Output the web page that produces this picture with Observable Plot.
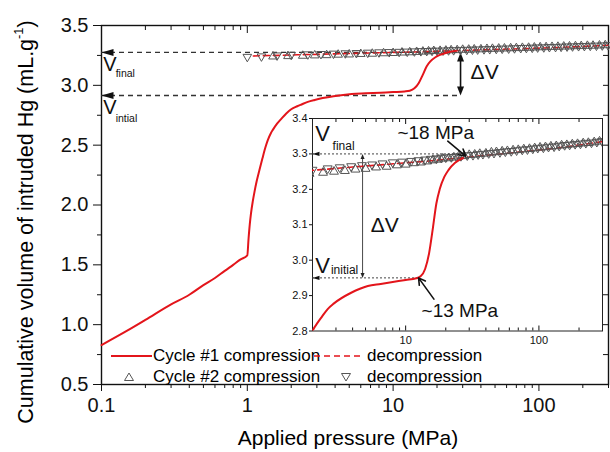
<!DOCTYPE html>
<html><head><meta charset="utf-8">
<script src="https://cdn.jsdelivr.net/npm/d3@7"></script>
<script src="https://cdn.jsdelivr.net/npm/@observablehq/plot@0.6"></script>
<style>
body{margin:0;background:#fff;font-family:"Liberation Sans",Arial,sans-serif;}
#wrap{position:relative;width:610px;height:452px;overflow:hidden;background:#fff;}
.abs{position:absolute;white-space:nowrap;color:#000;}
</style></head><body><div id="wrap"></div>
<script>
// ---- Cycle #1 compression (solid red) ----
const c1Pressure = [0.1, 0.15, 0.2, 0.3, 0.4, 0.5, 0.6, 0.7, 0.8, 0.9, 1.0, 1.02, 1.04, 1.06, 1.09, 1.12, 1.16, 1.21, 1.27, 1.33, 1.38, 1.45, 1.5, 1.6, 1.71, 1.85, 2.0, 2.2, 2.35, 2.6, 2.9, 3.9, 5.2, 6.5, 8.2, 10, 12, 13, 14, 15, 16, 17, 18, 19.5, 21, 23.5, 27];
const c1Volume   = [0.83, 0.95, 1.04, 1.17, 1.25, 1.33, 1.39, 1.45, 1.50, 1.545, 1.58, 1.72, 1.84, 1.93, 2.03, 2.11, 2.20, 2.29, 2.39, 2.48, 2.54, 2.60, 2.63, 2.68, 2.72, 2.765, 2.80, 2.825, 2.84, 2.862, 2.878, 2.908, 2.927, 2.933, 2.939, 2.944, 2.949, 2.955, 2.975, 3.02, 3.09, 3.16, 3.20, 3.235, 3.255, 3.275, 3.288];
// ---- Cycle #1 decompression (dashed red) ----
const d1Pressure = [1.1, 1.3, 1.7, 2.2, 3, 4, 5.5, 7.5, 10, 14, 20, 28, 40, 55, 75, 100, 140, 200, 300];
const d1Volume   = [3.245, 3.248, 3.251, 3.255, 3.259, 3.263, 3.267, 3.271, 3.275, 3.279, 3.285, 3.29, 3.296, 3.301, 3.306, 3.311, 3.317, 3.325, 3.335];
// ---- Cycle #2 compression (up triangles) ----
const c2Pressure = [1.5, 1.9, 2.4, 2.9, 3.5, 4.2, 5.0, 6.0, 7.2, 8.6, 10, 11.5, 13, 14.5, 16, 17.5, 19, 21, 23, 25, 27.5, 30, 33, 36, 40, 44, 48, 53, 58, 64, 70, 77, 85, 93, 102, 112, 123, 135, 148, 162, 178, 195, 215, 235, 260, 285];
const c2Volume   = [3.241, 3.244, 3.247, 3.250, 3.252, 3.256, 3.258, 3.262, 3.264, 3.268, 3.270, 3.274, 3.276, 3.279, 3.282, 3.284, 3.287, 3.288, 3.290, 3.293, 3.294, 3.297, 3.298, 3.300, 3.301, 3.304, 3.305, 3.307, 3.308, 3.310, 3.311, 3.313, 3.314, 3.316, 3.318, 3.319, 3.321, 3.322, 3.324, 3.325, 3.327, 3.328, 3.330, 3.331, 3.333, 3.335];
// ---- Cycle #2 decompression (down triangles) ----
const d2Pressure = [1.0, 1.25, 1.6, 2.0, 2.6, 3.2, 3.9, 4.7, 5.6, 6.7, 8, 9.4, 11, 12.5, 14, 15.5, 17, 18.5, 20, 22, 24, 26, 29, 32, 35, 38, 42, 46, 51, 56, 62, 68, 75, 82, 90, 98, 108, 118, 130, 142, 156, 170, 187, 205, 225, 248, 272, 298];
const d2Volume   = [3.238, 3.242, 3.250, 3.255, 3.259, 3.262, 3.265, 3.268, 3.270, 3.273, 3.276, 3.278, 3.280, 3.282, 3.284, 3.286, 3.287, 3.289, 3.290, 3.291, 3.293, 3.294, 3.296, 3.297, 3.299, 3.300, 3.302, 3.303, 3.305, 3.307, 3.308, 3.310, 3.312, 3.313, 3.315, 3.317, 3.318, 3.320, 3.321, 3.323, 3.325, 3.326, 3.328, 3.329, 3.331, 3.332, 3.334, 3.336];

// ---- axis ticks ----
const xMajorTicks = [0.1, 1, 10, 100];
const xMinorTicks = [0.2,0.3,0.4,0.5,0.6,0.7,0.8,0.9,2,3,4,5,6,7,8,9,20,30,40,50,60,70,80,90,200,300];
const yMajorTicks = [0.5, 1.0, 1.5, 2.0, 2.5, 3.0, 3.5];
const yMinorTicks = [0.75, 1.25, 1.75, 2.25, 2.75, 3.25];
const insetYTicks = [2.8, 2.9, 3.0, 3.1, 3.2, 3.3, 3.4];
const insetXMajor = [10, 100];
const insetXMinor = [2,3,4,5,6,7,8,9,20,30,40,50,60,70,80,90,200,300];

// ---- annotation values ----
const mainVFinal = 3.275, mainVInitial = 2.915, mainDeltaP = 29;
const insetVFinal = 3.30, insetVInitial = 2.95, insetDeltaP = 4.75;

const RED = "#e3151b";
const GREY = "#555";
const FONT = '"Liberation Sans", Arial, sans-serif';

const c1 = c1Pressure.map((p, i) => ({p, v: c1Volume[i]}));
const d1 = d1Pressure.map((p, i) => ({p, v: d1Volume[i]}));
const c2 = c2Pressure.map((p, i) => ({p, v: c2Volume[i]}));
const d2 = d2Pressure.map((p, i) => ({p, v: d2Volume[i]}));

const S3 = Math.sqrt(3);
const downTri = {draw(ctx, size) { const y = -Math.sqrt(size / (S3 * 3)); ctx.moveTo(0, -y * 2); ctx.lineTo(-S3 * y, y); ctx.lineTo(S3 * y, y); ctx.closePath(); }};
const headLeft = (L, w) => ({draw(ctx) { ctx.moveTo(0, 0); ctx.lineTo(L, -w); ctx.lineTo(L, w); ctx.closePath(); }});
const headUp = (L, w) => ({draw(ctx) { ctx.moveTo(0, 0); ctx.lineTo(-w, L); ctx.lineTo(w, L); ctx.closePath(); }});
const headDown = (L, w) => ({draw(ctx) { ctx.moveTo(0, 0); ctx.lineTo(-w, -L); ctx.lineTo(w, -L); ctx.closePath(); }});
const blank = () => "";

const main = Plot.plot({
  width: 610, height: 452,
  marginLeft: 101, marginRight: 2, marginTop: 25, marginBottom: 68,
  style: {fontFamily: FONT, background: "white", color: "#111", overflow: "visible"},
  x: {type: "log", domain: [0.1, 300]},
  y: {domain: [0.5, 3.5]},
  marks: [
    Plot.axisX(xMajorTicks, {anchor: "bottom", tickSize: 7, tickPadding: 6, fontSize: 20, tickFormat: d => String(d), label: null}),
    Plot.axisX(xMinorTicks, {anchor: "bottom", tickSize: 4, tickFormat: blank, label: null}),
    Plot.axisX(xMajorTicks, {anchor: "top", tickSize: -7, tickFormat: blank, label: null}),
    Plot.axisX(xMinorTicks, {anchor: "top", tickSize: -4, tickFormat: blank, label: null}),
    Plot.axisY(yMajorTicks, {anchor: "left", tickSize: 8, tickPadding: 5, fontSize: 20, tickFormat: d3.format(".1f"), label: null}),
    Plot.axisY(yMinorTicks, {anchor: "left", tickSize: 4, tickFormat: blank, label: null}),
    Plot.axisY(yMajorTicks.concat(yMinorTicks), {anchor: "right", tickSize: -6, tickFormat: blank, label: null}),
    Plot.frame({stroke: "#111", strokeWidth: 1.4}),
    // V lines
    Plot.ruleY([mainVFinal, mainVInitial], {x1: 0.1, x2: mainDeltaP, stroke: "#333", strokeWidth: 1.3, strokeDasharray: "5,4"}),
    Plot.dot([mainVFinal, mainVInitial], {x: 0.1, y: d => d, symbol: headLeft(12, 3.5), fill: "#111", stroke: "none"}),
    Plot.ruleX([mainDeltaP], {y1: mainVInitial + 0.04, y2: mainVFinal - 0.04, stroke: "#111", strokeWidth: 1.6}),
    Plot.dot([mainVFinal], {x: mainDeltaP, y: d => d, symbol: headUp(9, 3.5), fill: "#111", stroke: "none"}),
    Plot.dot([mainVInitial], {x: mainDeltaP, y: d => d, symbol: headDown(9, 3.5), fill: "#111", stroke: "none"}),
    // data
    Plot.line(d1, {x: "p", y: "v", stroke: RED, strokeWidth: 1.6, strokeDasharray: "6,4"}),
    Plot.dot(c2, {x: "p", y: "v", symbol: "triangle", r: 3.2, stroke: GREY, strokeWidth: 1, fill: "none"}),
    Plot.dot(d2, {x: "p", y: "v", symbol: downTri, r: 3.2, stroke: GREY, strokeWidth: 1, fill: "none"}),
    Plot.line(c1, {x: "p", y: "v", stroke: RED, strokeWidth: 2, curve: "monotone-x"}),
    // texts
    Plot.text([{p: 0.103, v: 3.17, t: "V"}, {p: 0.103, v: 2.815, t: "V"}], {x: "p", y: "v", text: "t", textAnchor: "start", fontSize: 20, fill: "#111"}),
    Plot.text([{p: 0.125, v: 3.10, t: "final"}, {p: 0.125, v: 2.722, t: "intial"}], {x: "p", y: "v", text: "t", textAnchor: "start", fontSize: 10.5, fill: "#111"}),
    Plot.text([{p: 34, v: 3.107, t: "ΔV"}], {x: "p", y: "v", text: "t", textAnchor: "start", fontSize: 21, fill: "#111"})
  ]
});

const inset = Plot.plot({
  width: 330, height: 250,
  marginLeft: 30, marginRight: 10, marginTop: 10, marginBottom: 27.5,
  style: {fontFamily: FONT, background: "transparent", color: "#111", overflow: "visible"},
  x: {type: "log", domain: [2, 300]},
  y: {domain: [2.8, 3.4]},
  marks: [
    Plot.frame({fill: "white", stroke: "none"}),
    Plot.axisY(insetYTicks, {anchor: "left", tickSize: 3, tickPadding: 2, fontSize: 11, tickFormat: d3.format(".1f"), label: null}),
    Plot.axisX(insetXMajor, {anchor: "bottom", tickSize: -5, tickFormat: blank, label: null}),
    Plot.axisX(insetXMinor, {anchor: "bottom", tickSize: -3, tickFormat: blank, label: null}),
    Plot.axisX(insetXMajor, {anchor: "bottom", tickSize: 0, tickPadding: 5, fontSize: 11, tickFormat: d => String(d), label: null}),
    Plot.axisX(insetXMajor, {anchor: "top", tickSize: -5, tickFormat: blank, label: null}),
    Plot.axisX(insetXMinor, {anchor: "top", tickSize: -3, tickFormat: blank, label: null}),
    Plot.frame({stroke: "#222", strokeWidth: 1}),
    Plot.ruleY([insetVFinal], {x1: 2, x2: 26, stroke: "#444", strokeWidth: 1, strokeDasharray: "2,2"}),
    Plot.ruleY([insetVInitial], {x1: 2, x2: 12.6, stroke: "#444", strokeWidth: 1, strokeDasharray: "2,2"}),
    Plot.dot([insetVFinal, insetVInitial], {x: 2, y: d => d, symbol: headLeft(7, 2.2), fill: "#111", stroke: "none"}),
    Plot.ruleX([insetDeltaP], {y1: insetVInitial + 0.01, y2: insetVFinal - 0.01, stroke: "#333", strokeWidth: 0.9}),
    Plot.dot([insetVFinal], {x: insetDeltaP, y: d => d, symbol: headUp(5, 2), fill: "#222", stroke: "none"}),
    Plot.dot([insetVInitial], {x: insetDeltaP, y: d => d, symbol: headDown(5, 2), fill: "#222", stroke: "none"}),
    Plot.line(d1, {x: "p", y: "v", stroke: RED, strokeWidth: 1.6, strokeDasharray: "6,4", clip: true}),
    Plot.dot(c2, {x: "p", y: "v", symbol: "triangle", r: 3.3, stroke: GREY, strokeWidth: 1, fill: "none", clip: true}),
    Plot.dot(d2, {x: "p", y: "v", symbol: downTri, r: 3.3, stroke: GREY, strokeWidth: 1, fill: "none", clip: true}),
    Plot.line(c1, {x: "p", y: "v", stroke: RED, strokeWidth: 2, curve: "monotone-x", clip: true}),
    Plot.arrow([{x1: 20.7, y1: 3.336, x2: 28.2, y2: 3.294}, {x1: 16.3, y1: 2.89, x2: 12.5, y2: 2.95}], {x1: "x1", y1: "y1", x2: "x2", y2: "y2", stroke: "#111", strokeWidth: 1.6, headLength: 7}),
    Plot.text([{p: 2.1, v: 3.355, t: "V"}, {p: 2.1, v: 2.983, t: "V"}], {x: "p", y: "v", text: "t", textAnchor: "start", fontSize: 22, fill: "#111"}),
    Plot.text([{p: 2.83, v: 3.322, t: "final"}, {p: 2.75, v: 2.972, t: "initial"}], {x: "p", y: "v", text: "t", textAnchor: "start", fontSize: 12, fill: "#111"}),
    Plot.text([{p: 5.46, v: 3.099, t: "ΔV"}], {x: "p", y: "v", text: "t", textAnchor: "start", fontSize: 21, fill: "#111"}),
    Plot.text([{p: 16.8, v: 3.359, t: "~18 MPa"}, {p: 25.5, v: 2.856, t: "~13 MPa"}], {x: "p", y: "v", text: "t", textAnchor: "middle", fontSize: 19, fill: "#111"})
  ]
});

const wrap = document.getElementById("wrap");
main.style.position = "absolute"; main.style.left = "0px"; main.style.top = "0px";
wrap.appendChild(main);
inset.style.position = "absolute"; inset.style.left = "282px"; inset.style.top = "107.5px";
wrap.appendChild(inset);

function addDiv(html, css) {
  const d = document.createElement("div");
  d.className = "abs";
  d.innerHTML = html;
  Object.assign(d.style, css);
  wrap.appendChild(d);
  return d;
}
// axis titles
addDiv('Cumulative volume of intruded Hg (mL.g<span style="font-size:60%;position:relative;top:-0.75em">-1</span>)',
  {left: "-194px", top: "209px", width: "440px", height: "26px", lineHeight: "26px", fontSize: "21.5px", textAlign: "center", transform: "rotate(-90deg)", transformOrigin: "50% 50%"});
addDiv("Applied pressure (MPa)", {left: "198px", top: "426px", width: "300px", height: "24px", lineHeight: "24px", fontSize: "21px", textAlign: "center"});

// legend
const legendRows = [
  {y: 356, sym: '<svg width="42" height="20"><line x1="0" y1="10" x2="41" y2="10" stroke="' + RED + '" stroke-width="2"/></svg>', symX: 111,
   text: "Cycle #1 compression", sym2: '<svg width="46" height="20"><line x1="0" y1="10" x2="46" y2="10" stroke="' + RED + '" stroke-width="1.6" stroke-dasharray="6,4"/></svg>', sym2X: 314},
  {y: 377, sym: '<svg width="12" height="20"><path d="M6,6 L10.5,13.5 L1.5,13.5 Z" fill="none" stroke="' + GREY + '" stroke-width="1"/></svg>', symX: 123,
   text: "Cycle #2 compression", sym2: '<svg width="12" height="20"><path d="M6,14 L10.5,6.5 L1.5,6.5 Z" fill="none" stroke="' + GREY + '" stroke-width="1"/></svg>', sym2X: 340}
];
for (const r of legendRows) {
  const top = (r.y - 10) + "px";
  addDiv(r.sym, {left: r.symX + "px", top, height: "20px", lineHeight: "0"});
  addDiv(r.text, {left: "153px", top, height: "20px", lineHeight: "20px", fontSize: "17px"});
  addDiv(r.sym2, {left: r.sym2X + "px", top, height: "20px", lineHeight: "0"});
  addDiv("decompression", {left: "367px", top, height: "20px", lineHeight: "20px", fontSize: "17px"});
}
</script></body></html>
